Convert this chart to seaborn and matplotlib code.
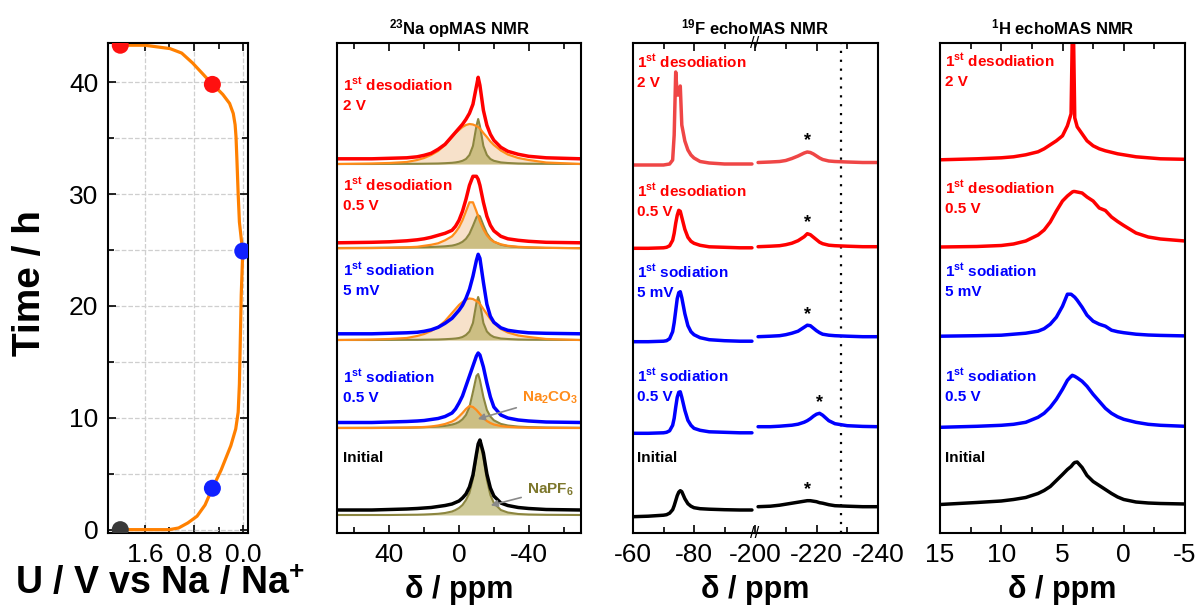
import numpy as np
import seaborn as sns
import matplotlib.pyplot as plt
from matplotlib.ticker import FixedLocator, MultipleLocator

# ---------------- cell potential vs time (left panel) ----------------
cell_v = [2.0, 1.2, 1.05, 0.9, 0.75, 0.62, 0.5, 0.36, 0.2, 0.12, 0.08, 0.06, 0.045, 0.03,
          0.005, 0.03, 0.06, 0.08, 0.1, 0.115, 0.13, 0.16, 0.22, 0.33, 0.42, 0.5, 0.65, 0.82,
          1.0, 1.19, 1.6, 2.0]
cell_t = [0.0, 0.0, 0.15, 0.6, 1.2, 2.2, 3.7, 5.3, 7.5, 9.0, 10.5, 13, 17, 21,
          24.9, 26, 27.5, 30, 33, 35.1, 36.2, 37.2, 38.1, 38.9, 39.4, 39.8, 40.7, 41.7,
          42.6, 43.0, 43.3, 43.3]
point_v = [2.0, 0.5, 0.005, 0.5, 2.0]
point_t = [0.0, 3.7, 24.9, 39.8, 43.3]
point_kind = ['initial', 'sodiation', 'sodiation', 'desodiation', 'desodiation']

# ---------------- 23Na opMAS ----------------
na_ppm = [70, 50, 40, 30, 24, 20, 16, 12, 8, 4, 2, 0, -2, -4, -6, -8, -10, -11, -12, -14,
          -16, -18, -20, -24, -28, -34, -40, -50, -70]
na_init = [1, 1, 1.5, 2, 2.5, 3, 3.5, 4.5, 5.5, 7, 8.5, 10, 13, 17, 24, 36, 57, 67, 71, 58,
           37, 23, 15, 8, 5.5, 3.5, 2.5, 1.5, 1]
na_init_napf6 = [0, 0, 0, 0.2, 0.3, 0.5, 0.8, 1.2, 2, 3.5, 5, 7, 10, 15, 22, 36, 58, 68, 73, 57,
                 35, 20, 12, 5, 2.5, 1, 0.5, 0.2, 0]
na_sod05 = [0.5, 0.5, 1, 1.5, 2, 2.5, 3.5, 4.5, 6.5, 10, 14, 20, 27, 37, 47, 57, 67, 70, 68, 56,
            40, 26, 16, 8, 5, 3, 2, 1, 0.5]
na_sod05_na2co3 = [0, 0, 0.2, 0.4, 0.7, 1, 1.5, 2.5, 4, 6.5, 8.5, 11.5, 15, 19, 22, 21, 18, 16, 14, 10,
                   7, 5, 3.5, 2, 1.2, 0.6, 0.3, 0.1, 0]
na_sod05_napf6 = [0.1, 0.2, 0.3, 0.4, 0.6, 0.8, 1.1, 1.5, 2.1, 3.4, 4.4, 6, 8.7, 13, 21, 36, 52, 54, 48, 31,
                  18, 11.5, 7.7, 4.1, 2.5, 1.4, 0.9, 0.5, 0.2]
na_sod5 = [0.5, 0.5, 1, 1.5, 2, 3, 4.5, 7, 11, 16, 20, 24, 29, 36, 45, 58, 74, 80, 76, 52,
           30, 18, 12, 6.5, 4, 2.5, 1.5, 1, 0.5]
na_sod5_na2co3 = [0, 0.5, 1, 2, 4, 6, 9, 13, 19, 27, 31, 35, 38, 40.5, 41.5, 41, 39, 38, 36, 31,
                  26, 21, 17, 11, 7.5, 4.5, 3, 1, 0]
na_sod5_napf6 = [0, 0, 0.1, 0.2, 0.2, 0.3, 0.4, 0.5, 0.8, 1.2, 1.5, 2, 3, 5, 8.5, 17, 37, 43, 37, 17,
                 8.5, 5, 3, 1.5, 1, 0.5, 0.3, 0.2, 0]
na_des05 = [0.5, 1, 1.5, 2.5, 3.5, 4.5, 6, 8, 10, 13, 17, 23, 32, 44, 58, 67, 67, 64, 58, 41,
            27, 18, 12.5, 7, 4.5, 3, 2, 1, 0.5]
na_des05_na2co3 = [0, 0.2, 0.5, 1, 1.5, 2.5, 3.5, 5, 8, 12, 16, 21, 28, 37, 46, 46, 37, 32, 27, 19,
                   13, 9, 6.5, 4, 2.5, 1.5, 1, 0.5, 0]
na_des05_napf6 = [0.3, 0.5, 0.6, 0.8, 1, 1.1, 1.3, 1.6, 2, 2.7, 3.5, 4.7, 6.5, 9.5, 14.5, 22.4, 31, 33, 32, 23,
                  15, 10, 6.7, 3.6, 2.2, 1.2, 0.8, 0.4, 0.2]
na_des2 = [0.5, 0.5, 1, 1.5, 2.5, 4, 6, 10, 15, 23, 27, 31, 35, 40, 46, 55, 73, 82, 74, 49,
           34, 25, 19, 12, 8, 5, 3, 1.5, 0.5]
na_des2_na2co3 = [0, 0.5, 1, 2, 4, 6, 9, 13, 19, 27, 31, 34, 37, 39, 40, 39.5, 38, 37, 35.5, 31,
                  27, 22.5, 19, 13.5, 9.5, 6, 4, 1.5, 0]
na_des2_napf6 = [0, 0, 0.1, 0.2, 0.2, 0.3, 0.4, 0.5, 0.8, 1.2, 1.6, 2.2, 3.2, 5, 9, 18, 38, 45, 38, 18,
                 9, 5, 3.2, 1.6, 1, 0.5, 0.3, 0.2, 0]

# ---------------- 19F echoMAS (broken axis) ----------------
f_ppm_l = [-60, -65, -70, -71, -72, -73, -73.5, -74, -74.5, -75, -75.5, -76, -77, -78, -79, -80,
           -82, -85, -90, -95, -99]
f_ppm_r = [-201, -205, -208, -210, -212, -214, -216, -217, -218, -219, -220, -221, -222, -224,
           -226, -230, -235, -240]
f_init_l = [0, 0.5, 1.5, 2, 3.5, 7, 11, 16, 21, 24.5, 26, 25, 18, 13, 10.5, 9, 8, 7.5, 7, 6.7, 6.7]
f_init_r = [0, 0.5, 1.5, 2.5, 3.5, 4.5, 5.5, 6, 6, 5.5, 5, 4, 3.5, 2, 1, 0.5, 0, 0]
f_sod05_l = [0, 0, 0.5, 1, 2.5, 8, 15, 26, 36, 41, 41.5, 36, 23, 13, 8, 5, 3, 1.5, 1, 0.5, 0.5]
f_sod05_r = [0, 0, 0.5, 1, 1.5, 2.5, 4.5, 6, 8, 10.5, 12.5, 13.4, 11.5, 6, 3, 1, 0.3, 0]
f_sod5_l = [0, 0, 0.5, 1, 3, 10, 19, 31, 43, 49, 50, 44, 28, 16, 10, 7, 4, 2, 1, 0.5, 0.5]
f_sod5_r = [0, 0.5, 1, 2, 3.5, 5.5, 9.5, 11.5, 11, 8.5, 6, 4, 2.5, 1.5, 1, 0.5, 0, 0]
f_des05_l = [0, 0, 0.5, 1, 2.5, 8, 15, 25, 33, 38, 37, 31, 19, 11, 7, 5, 3, 1.5, 1, 0.5, 0.5]
f_des05_r = [0, 0.5, 1, 2, 3.5, 6, 10, 13, 12, 9.5, 7, 4.5, 3, 1.5, 1, 0.5, 0, 0]
f_des2_l = [0, 0, 0, 0.5, 1, 5, 30, 93, 70, 70, 79, 40, 24, 15, 10, 7, 3.5, 2, 1, 1, 1]
f_des2_r = [0, 0.5, 1, 2, 4, 6.5, 9.5, 10.5, 10, 8.5, 6.5, 4.5, 3, 1.5, 1, 0.5, 0, 0]

# ---------------- 1H echoMAS ----------------
h_ppm = [15, 12, 10, 9, 8, 7, 6.5, 6, 5.5, 5, 4.6, 4.3, 4.2, 4.1, 4.0, 3.8, 3.4, 3.0, 2.5, 2.0,
         1.5, 1.0, 0.5, 0, -1, -2, -3, -5]
h_init = [0, 2, 3.5, 5, 7, 11, 14, 18, 24, 30, 35, 38, 39.5, 41, 42, 42.5, 37, 29, 23, 19,
          15, 11, 7.5, 5, 2.5, 1.5, 1, 0.5]
h_sod05 = [0, 1, 2, 3, 5, 10, 14, 20, 28, 38, 47, 51, 52, 51.5, 51, 49.5, 46, 41, 33, 26,
           19, 14, 10.5, 8, 5, 3, 2, 1]
h_sod5 = [0, 0.5, 1, 2, 3, 5, 7.5, 12, 19, 30, 42, 42, 41, 40, 39, 36, 29, 21, 15, 12,
          10, 6, 4.5, 3.5, 2, 1.2, 0.8, 0.3]
h_des05 = [0, 0.5, 1.5, 3, 6, 12, 17, 25, 36, 46, 51, 54, 55, 55.5, 55.5, 55, 54, 50, 46, 39,
           36.5, 30, 25.5, 21.5, 14, 10, 8, 6]
h_des2 = [0, 1, 2, 3, 5, 8, 11, 15, 19, 24, 34, 46, 125, 125, 42, 33, 26, 19, 14, 11,
          9, 7.5, 6, 5, 3, 2, 1, 0.5]

# states, bottom to top
state_line1 = ['Initial', r'1$^{\mathbf{st}}$ sodiation', r'1$^{\mathbf{st}}$ sodiation',
               r'1$^{\mathbf{st}}$ desodiation', r'1$^{\mathbf{st}}$ desodiation']
state_line2 = ['', '0.5 V', '5 mV', '0.5 V', '2 V']
state_colors = ['black', '#0000ff', '#0000ff', '#ff0000', '#ff0000']
f_colors = ['black', '#0000ff', '#0000ff', '#ff0000', '#ef4646']

# ---------------- style ----------------
sns.set_theme(style='ticks')
plt.rcParams['font.family'] = ['Liberation Sans', 'DejaVu Sans']
plt.rcParams['mathtext.fontset'] = 'custom'
plt.rcParams['mathtext.rm'] = 'Liberation Sans'
plt.rcParams['mathtext.bf'] = 'Liberation Sans:bold'
plt.rcParams['mathtext.it'] = 'Liberation Sans:italic'
plt.rcParams['axes.unicode_minus'] = False
plt.rcParams['axes.linewidth'] = 1.5
plt.rcParams['axes.edgecolor'] = 'black'
plt.rcParams['text.color'] = 'black'
plt.rcParams['axes.labelcolor'] = 'black'
plt.rcParams['xtick.color'] = 'black'
plt.rcParams['ytick.color'] = 'black'
plt.rcParams['axes.titlecolor'] = 'black'

W, H = 1203, 606
fig = plt.figure(figsize=(W / 100, H / 100), dpi=100)


def box(x0, x1, y0=43, y1=533):
    return [x0 / W, (H - y1) / H, (x1 - x0) / W, (y1 - y0) / H]


ORANGE = '#ff8c1a'
OLIVE = '#8c8640'


def style_nmr(ax, xlim, major, minor):
    ax.set_xlim(*xlim)
    ax.set_ylim(0, 490)
    ax.set_yticks([])
    ax.xaxis.set_major_locator(FixedLocator(major))
    ax.xaxis.set_minor_locator(FixedLocator(minor))
    ax.tick_params(axis='x', which='both', direction='in', top=True, bottom=True,
                   labelsize=19, width=1.2, pad=7, colors='black')
    ax.tick_params(axis='x', which='major', length=5.5)
    ax.tick_params(axis='x', which='minor', length=4)
    ax.set_ylabel('')
    ax.set_xlabel('')


def put_labels(ax, label_py, x_frac):
    for py, l1, l2, c in zip(label_py, state_line1, state_line2, state_colors):
        ax.text(x_frac, (533 - py) / 490, l1, transform=ax.transAxes, color=c,
                fontsize=11, fontweight='bold', va='center', ha='left')
        if l2:
            ax.text(x_frac, (533 - py - 21) / 490, l2, transform=ax.transAxes, color=c,
                    fontsize=11, fontweight='bold', va='center', ha='left')


def line(ax, x, y, base, color, lw):
    sns.lineplot(x=x, y=np.add(y, base), ax=ax, color=color, lw=lw,
                 estimator=None, sort=False, errorbar=None)


# ---------------- left panel ----------------
ax0 = fig.add_axes(box(108, 248))
ax0.set_axisbelow(True)
ax0.grid(True, which='major', axis='x', ls='--', color='#cfcfcf', lw=0.9)
ax0.grid(True, which='both', axis='y', ls='--', color='#cfcfcf', lw=0.9)
sns.lineplot(x=cell_v, y=cell_t, ax=ax0, color='#ff8000', lw=2.3, estimator=None,
             sort=False, errorbar=None)
sns.scatterplot(x=point_v, y=point_t, hue=point_kind, ax=ax0, s=150, legend=False,
                palette={'initial': '#3a3a3a', 'sodiation': '#1020ff', 'desodiation': '#ff1010'},
                edgecolor='none', zorder=4)
ax0.set_xlim(2.2, -0.08)
ax0.set_ylim(-0.3, 43.5)
ax0.xaxis.set_major_locator(FixedLocator([1.6, 0.8, 0.0]))
ax0.xaxis.set_minor_locator(FixedLocator([2.0, 1.2, 0.4]))
ax0.set_xticklabels(['1.6', '0.8', '0.0'])
ax0.yaxis.set_major_locator(MultipleLocator(10))
ax0.yaxis.set_minor_locator(MultipleLocator(5))
ax0.tick_params(which='both', direction='in', top=True, right=True, labelsize=19,
                width=1.2, colors='black', pad=7)
ax0.tick_params(which='major', length=6)
ax0.tick_params(which='minor', length=4)
ax0.set_xlabel(r'U / V vs Na / Na$^{\mathbf{+}}$', fontsize=27, fontweight='bold')
ax0.set_ylabel('Time / h', fontsize=28, fontweight='bold')
ax0.xaxis.set_label_coords(0.37, -0.068)
ax0.yaxis.set_label_coords(-0.43, 0.51)

# ---------------- 23Na panel ----------------
ax1 = fig.add_axes(box(337, 581))
na_sets = [(na_init, None, na_init_napf6), (na_sod05, na_sod05_na2co3, na_sod05_napf6),
           (na_sod5, na_sod5_na2co3, na_sod5_napf6), (na_des05, na_des05_na2co3, na_des05_napf6),
           (na_des2, na_des2_na2co3, na_des2_napf6)]
na_base = [22, 110, 198.7, 289.7, 373.7]
na_fit_base = [18, 105, 193, 284.7, 369]
for (spec, carb, pf6), b, fb, c in zip(na_sets, na_base, na_fit_base, state_colors):
    if carb is not None:
        ax1.fill_between(na_ppm, fb, np.add(carb, fb), color='#f3cda8', alpha=0.6, lw=0)
    ax1.fill_between(na_ppm, fb, np.add(pf6, fb), color='#b0a855', alpha=0.6, lw=0)
    line(ax1, na_ppm, pf6, fb, OLIVE, 1.5)
    if carb is not None:
        line(ax1, na_ppm, carb, fb, ORANGE, 1.6)
    line(ax1, na_ppm, spec, b, c, 2.5)
style_nmr(ax1, (70, -70), [40, 0, -40], [60, 20, -20, -60])
ax1.set_xticklabels(['40', '0', '-40'])
ax1.set_xlabel('δ / ppm', fontsize=22, fontweight='bold')
ax1.set_title(r'$^{\mathbf{23}}$Na opMAS NMR', fontsize=12, fontweight='bold', pad=6)
put_labels(ax1, [458, 377, 270, 185, 85], 0.025)
ax1.annotate(r'Na$_{\mathbf{2}}$CO$_{\mathbf{3}}$', xy=(0.566, 0.231), xycoords='axes fraction',
             xytext=(0.875, 0.276), textcoords='axes fraction', ha='center', va='center',
             color=ORANGE, fontsize=11, fontweight='bold',
             arrowprops=dict(arrowstyle='-|>', color='#8a8a8a', lw=1.2, mutation_scale=10))
ax1.annotate(r'NaPF$_{\mathbf{6}}$', xy=(0.619, 0.055), xycoords='axes fraction',
             xytext=(0.875, 0.088), textcoords='axes fraction', ha='center', va='center',
             color='#7d772c', fontsize=11, fontweight='bold',
             arrowprops=dict(arrowstyle='-|>', color='#8a8a8a', lw=1.2, mutation_scale=10))

# ---------------- 19F panel ----------------
ax2 = fig.add_axes(box(633, 755))
ax3 = fig.add_axes(box(755, 878))
f_sets = [(f_init_l, f_init_r), (f_sod05_l, f_sod05_r), (f_sod5_l, f_sod5_r),
          (f_des05_l, f_des05_r), (f_des2_l, f_des2_r)]
f_base_l = [16.3, 99.7, 191.3, 284.7, 368]
f_base_r = [26.3, 106.3, 196.3, 286.3, 370.5]
ax3.axvline(-228, color='black', ls=(0, (1, 3)), lw=1.6)
for (sl, sr), bl, br, c in zip(f_sets, f_base_l, f_base_r, f_colors):
    line(ax2, f_ppm_l, sl, bl, c, 2.5)
    line(ax3, f_ppm_r, sr, br, c, 2.5)
    k = int(np.argmax(sr))
    ax3.text(f_ppm_r[k], br + sr[k] + 11, '*', ha='center', va='center', fontsize=13,
             fontweight='bold', color='black')
style_nmr(ax2, (-60, -100), [-60, -80], [-70, -90])
style_nmr(ax3, (-200, -240), [-200, -220, -240], [-210, -230])
ax2.set_xticklabels(['-60', '-80'])
ax3.set_xticklabels(['-200', '-220', '-240'])
ax2.spines['right'].set_visible(False)
ax3.spines['left'].set_visible(False)
for yy in (0, 1):
    ax3.text(0, yy, '//', transform=ax3.transAxes, ha='center', va='center', fontsize=12,
             color='black')
ax3.set_xlabel('δ / ppm', fontsize=22, fontweight='bold')
ax3.xaxis.set_label_coords(0.0, -0.085)
ax3.set_title(r'$^{\mathbf{19}}$F echoMAS NMR', fontsize=12, fontweight='bold', pad=6, x=0.0)
put_labels(ax2, [458, 376, 272, 191, 62], 0.033)

# ---------------- 1H panel ----------------
ax4 = fig.add_axes(box(940, 1185))
h_sets = [h_init, h_sod05, h_sod5, h_des05, h_des2]
h_base = [28.5, 105.7, 196.8, 286, 373.2]
for s, b, c in zip(h_sets, h_base, state_colors):
    line(ax4, h_ppm, s, b, c, 2.5)
style_nmr(ax4, (15, -5), [15, 10, 5, 0, -5], [12.5, 7.5, 2.5, -2.5])
ax4.set_xticklabels(['15', '10', '5', '0', '-5'])
ax4.set_xlabel('δ / ppm', fontsize=22, fontweight='bold')
ax4.set_title(r'$^{\mathbf{1}}$H echoMAS NMR', fontsize=12, fontweight='bold', pad=6)
put_labels(ax4, [458, 376, 271, 188, 61], 0.02)

ax1.xaxis.set_label_coords(0.5, -0.085)
ax4.xaxis.set_label_coords(0.5, -0.085)

fig.savefig('out.png', dpi=100)
